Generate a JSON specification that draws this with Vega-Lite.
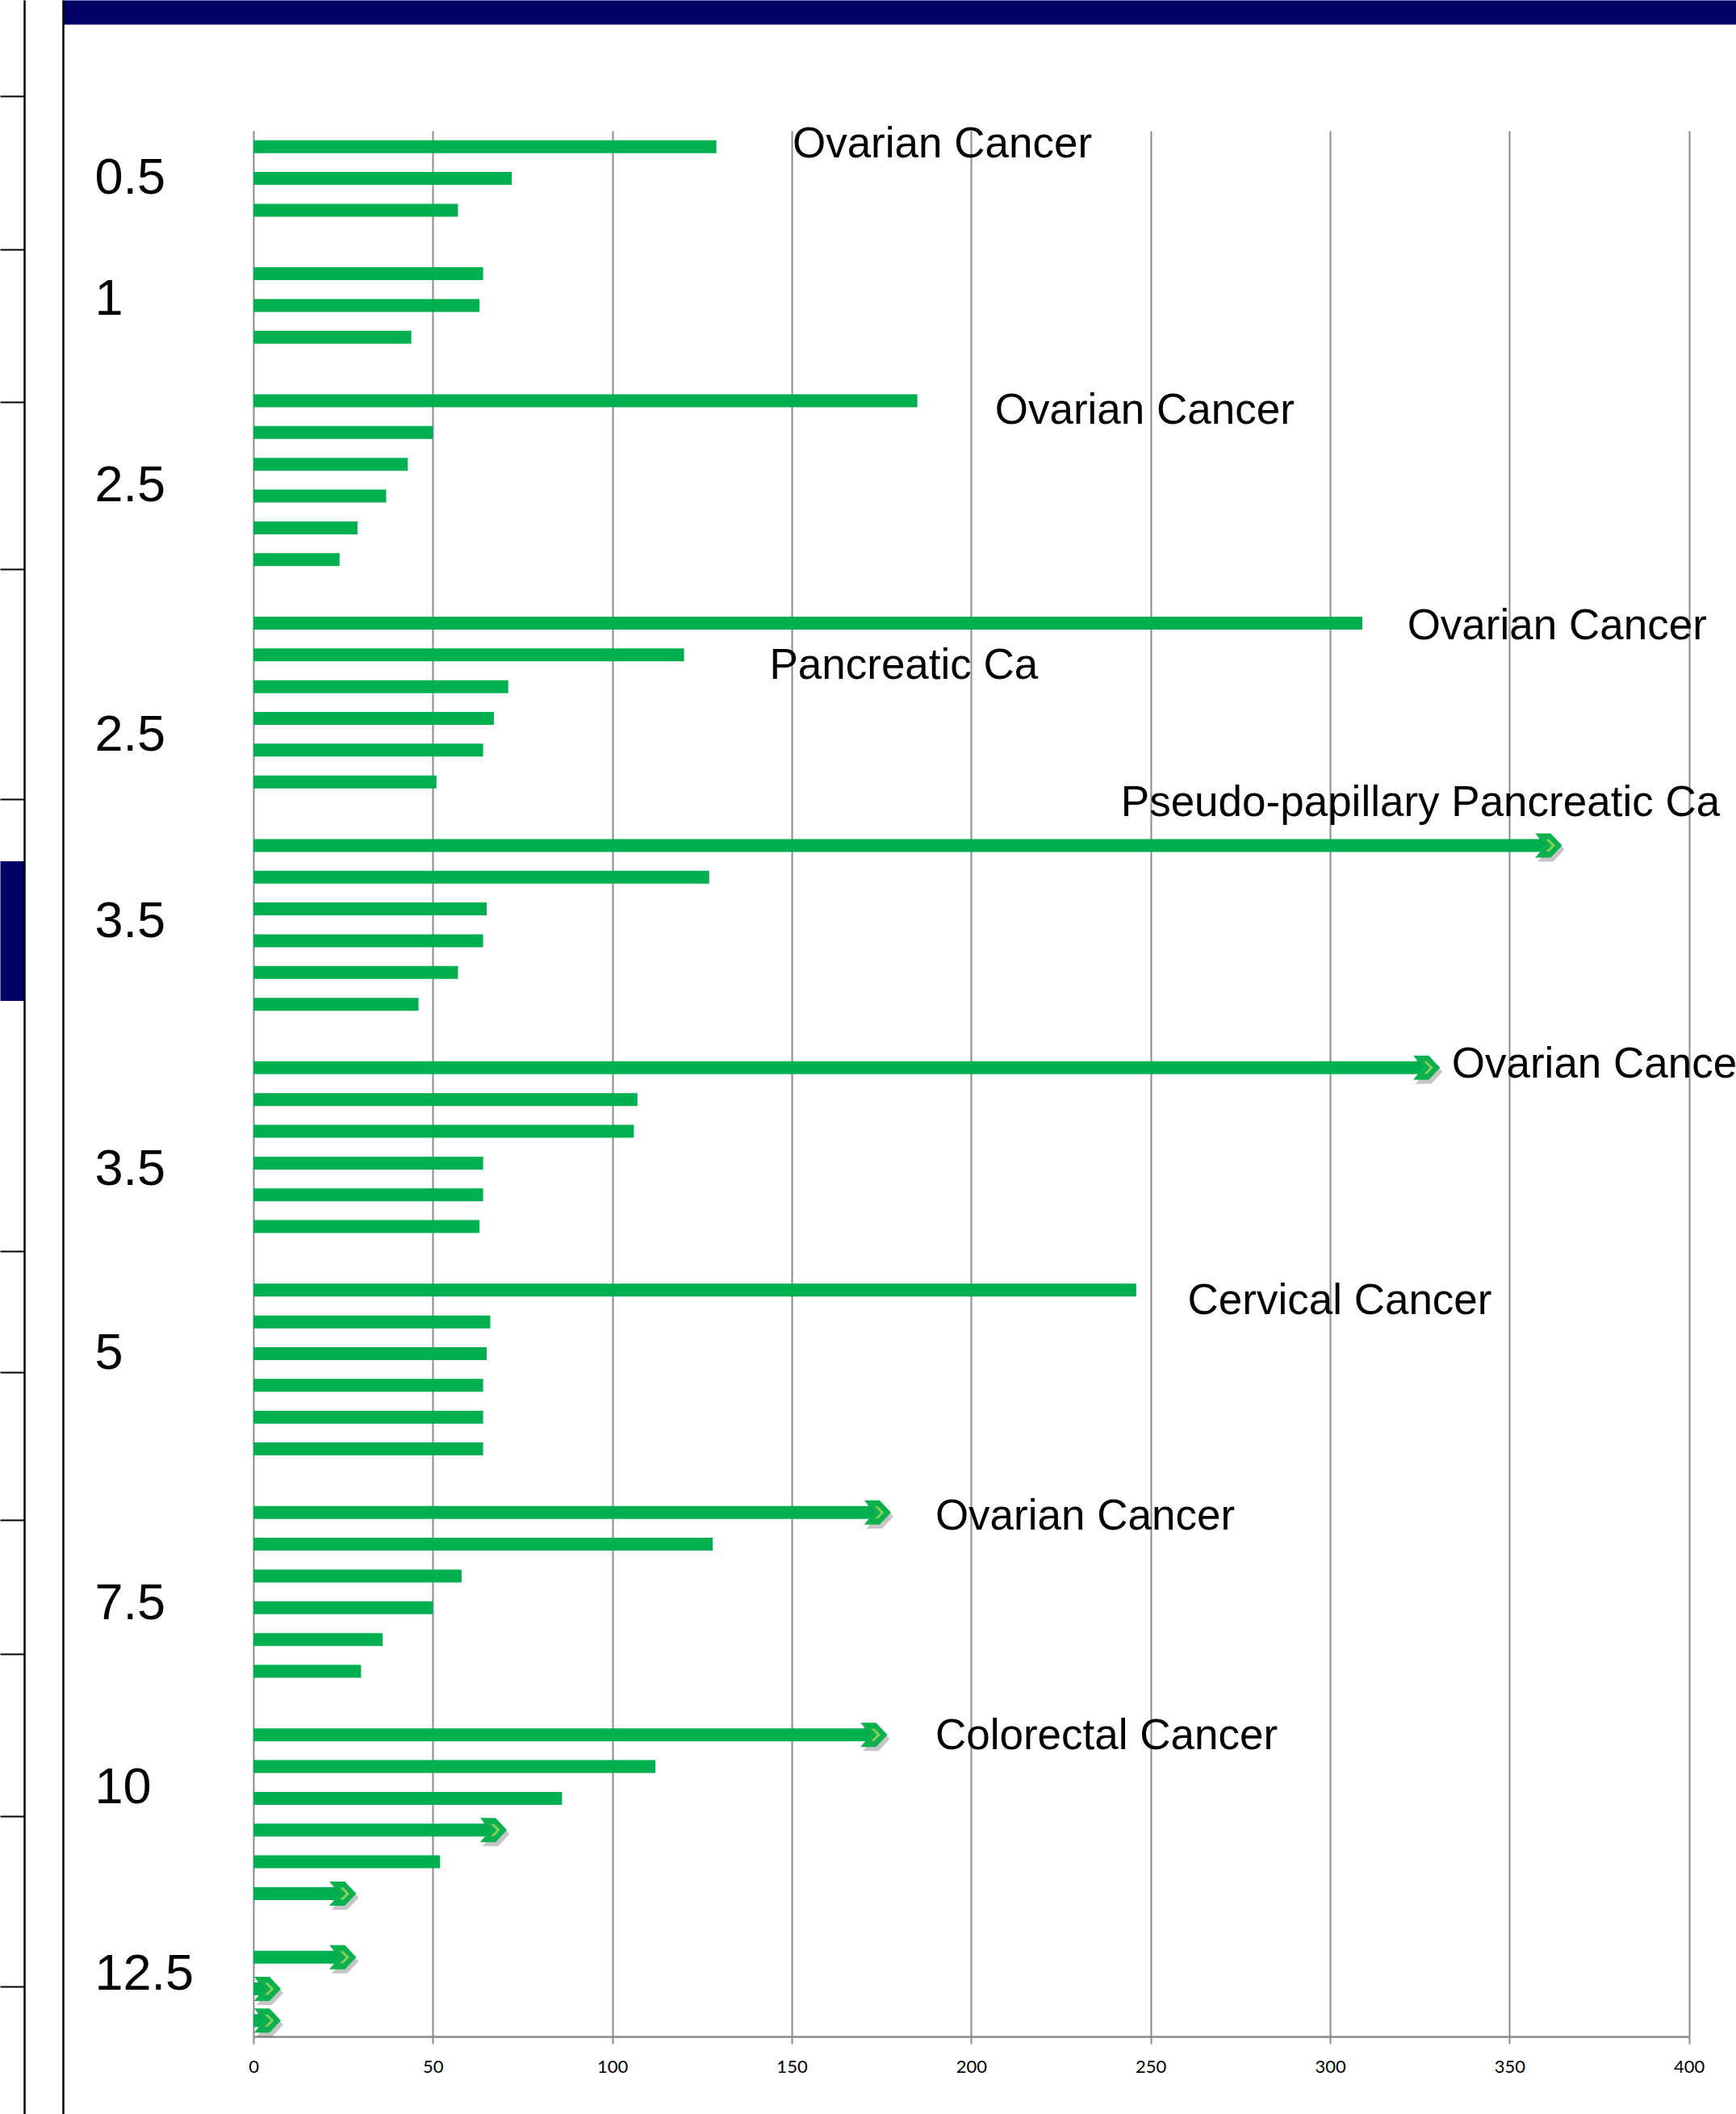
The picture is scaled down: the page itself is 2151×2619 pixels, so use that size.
{
  "$schema": "https://vega.github.io/schema/vega-lite/v6.json",
  "autosize": {"type": "none"},
  "padding": {"left": 78, "top": 66, "right": 0, "bottom": 0},
  "width": 2073,
  "height": 2553,
  "background": "white",
  "config": {"view": {"stroke": null}},
  "datasets": {
    "bars": [
      {"group": "0.5", "row": 0, "value": 129, "arrow": false},
      {"group": "0.5", "row": 1, "value": 72, "arrow": false},
      {"group": "0.5", "row": 2, "value": 57, "arrow": false},
      {"group": "1", "row": 4, "value": 64, "arrow": false},
      {"group": "1", "row": 5, "value": 63, "arrow": false},
      {"group": "1", "row": 6, "value": 44, "arrow": false},
      {"group": "2.5", "row": 8, "value": 185, "arrow": false},
      {"group": "2.5", "row": 9, "value": 50, "arrow": false},
      {"group": "2.5", "row": 10, "value": 43, "arrow": false},
      {"group": "2.5", "row": 11, "value": 37, "arrow": false},
      {"group": "2.5", "row": 12, "value": 29, "arrow": false},
      {"group": "2.5", "row": 13, "value": 24, "arrow": false},
      {"group": "2.5", "row": 15, "value": 309, "arrow": false},
      {"group": "2.5", "row": 16, "value": 120, "arrow": false},
      {"group": "2.5", "row": 17, "value": 71, "arrow": false},
      {"group": "2.5", "row": 18, "value": 67, "arrow": false},
      {"group": "2.5", "row": 19, "value": 64, "arrow": false},
      {"group": "2.5", "row": 20, "value": 51, "arrow": false},
      {"group": "3.5", "row": 22, "value": 360, "arrow": true},
      {"group": "3.5", "row": 23, "value": 127, "arrow": false},
      {"group": "3.5", "row": 24, "value": 65, "arrow": false},
      {"group": "3.5", "row": 25, "value": 64, "arrow": false},
      {"group": "3.5", "row": 26, "value": 57, "arrow": false},
      {"group": "3.5", "row": 27, "value": 46, "arrow": false},
      {"group": "3.5", "row": 29, "value": 326, "arrow": true},
      {"group": "3.5", "row": 30, "value": 107, "arrow": false},
      {"group": "3.5", "row": 31, "value": 106, "arrow": false},
      {"group": "3.5", "row": 32, "value": 64, "arrow": false},
      {"group": "3.5", "row": 33, "value": 64, "arrow": false},
      {"group": "3.5", "row": 34, "value": 63, "arrow": false},
      {"group": "5", "row": 36, "value": 246, "arrow": false},
      {"group": "5", "row": 37, "value": 66, "arrow": false},
      {"group": "5", "row": 38, "value": 65, "arrow": false},
      {"group": "5", "row": 39, "value": 64, "arrow": false},
      {"group": "5", "row": 40, "value": 64, "arrow": false},
      {"group": "5", "row": 41, "value": 64, "arrow": false},
      {"group": "7.5", "row": 43, "value": 173, "arrow": true},
      {"group": "7.5", "row": 44, "value": 128, "arrow": false},
      {"group": "7.5", "row": 45, "value": 58, "arrow": false},
      {"group": "7.5", "row": 46, "value": 50, "arrow": false},
      {"group": "7.5", "row": 47, "value": 36, "arrow": false},
      {"group": "7.5", "row": 48, "value": 30, "arrow": false},
      {"group": "10", "row": 50, "value": 172, "arrow": true},
      {"group": "10", "row": 51, "value": 112, "arrow": false},
      {"group": "10", "row": 52, "value": 86, "arrow": false},
      {"group": "10", "row": 53, "value": 66, "arrow": true},
      {"group": "10", "row": 54, "value": 52, "arrow": false},
      {"group": "10", "row": 55, "value": 24, "arrow": true},
      {"group": "12.5", "row": 57, "value": 24, "arrow": true},
      {"group": "12.5", "row": 58, "value": 3, "arrow": true},
      {"group": "12.5", "row": 59, "value": 3, "arrow": true}
    ],
    "notes": [
      {"text": "Ovarian Cancer", "at": 150.2, "row": -0.08},
      {"text": "Ovarian Cancer", "at": 206.6, "row": 8.32},
      {"text": "Ovarian Cancer", "at": 321.5, "row": 15.11},
      {"text": "Pancreatic Ca", "at": 143.8, "row": 16.35},
      {"text": "Pseudo-papillary Pancreatic Ca", "at": 241.7, "row": 20.68},
      {"text": "Ovarian Cancer", "at": 333.9, "row": 28.91},
      {"text": "Cervical Cancer", "at": 260.3, "row": 36.34},
      {"text": "Ovarian Cancer", "at": 190.0, "row": 43.13},
      {"text": "Colorectal Cancer", "at": 190.0, "row": 50.05}
    ]
  },
  "layer": [
    {
      "layer": [
        {
          "data": {"name": "bars"},
          "mark": {"type": "bar", "orient": "horizontal", "size": 16, "color": "#00B050"},
          "encoding": {
            "x": {
              "field": "value",
              "type": "quantitative",
              "scale": {"domain": [0, 400], "range": [236, 2014.7], "nice": false, "zero": true, "padding": 0},
              "axis": {
                "orient": "bottom",
                "offset": -96,
                "values": [0, 50, 100, 150, 200, 250, 300, 350, 400],
                "grid": true,
                "gridColor": "#8a8a8a",
                "gridWidth": 2,
                "domain": true,
                "domainColor": "#8a8a8a",
                "domainWidth": 2.5,
                "ticks": true,
                "tickSize": 9,
                "tickColor": "#8a8a8a",
                "tickWidth": 2,
                "labelFont": "Lato",
                "labelFontSize": 22,
                "labelColor": "#000000",
                "labelPadding": 18,
                "labelFlush": false,
                "labelOverlap": false,
                "title": null
              }
            },
            "y": {
              "field": "row",
              "type": "quantitative",
              "scale": {"domain": [-0.5, 59.5], "range": [96, 2457], "nice": false, "zero": false, "padding": 0},
              "axis": {
                "orient": "left",
                "offset": -39,
                "values": [0.99, 4.81, 10.67, 18.52, 24.38, 32.19, 38.0, 45.86, 51.67, 57.53],
                "labelExpr": "datum.value < 2 ? '0.5' : datum.value < 7 ? '1' : datum.value < 20 ? '2.5' : datum.value < 33 ? '3.5' : datum.value < 40 ? '5' : datum.value < 48 ? '7.5' : datum.value < 55 ? '10' : '12.5'",
                "domain": false,
                "ticks": false,
                "tickSize": 0,
                "grid": false,
                "labelAlign": "left",
                "labelBaseline": "middle",
                "labelPadding": 0,
                "labelFont": "Liberation Sans",
                "labelFontSize": 63,
                "labelColor": "#000000",
                "labelOverlap": false,
                "labelFlush": false,
                "title": null
              }
            }
          }
        },
        {
          "data": {"name": "bars"},
          "transform": [{"filter": "datum.arrow"}],
          "mark": {
            "type": "point",
            "shape": "M-0.84,-1L0.44,-1L1.38,0L0.44,1L-0.84,1L0,0Z",
            "size": 900,
            "filled": true,
            "color": "#404040",
            "fill": "#404040",
            "opacity": 0.3,
            "strokeWidth": 0,
            "xOffset": 3,
            "yOffset": 5
          },
          "encoding": {
            "x": {"field": "value", "type": "quantitative"},
            "y": {"field": "row", "type": "quantitative"}
          }
        },
        {
          "data": {"name": "bars"},
          "transform": [{"filter": "datum.arrow"}],
          "mark": {
            "type": "point",
            "shape": "M-0.84,-1L0.44,-1L1.38,0L0.44,1L-0.84,1L0,0Z",
            "size": 900,
            "filled": true,
            "color": "#0CB14E",
            "fill": "#0CB14E",
            "opacity": 1,
            "strokeWidth": 0
          },
          "encoding": {
            "x": {"field": "value", "type": "quantitative"},
            "y": {"field": "row", "type": "quantitative"}
          }
        },
        {
          "data": {"name": "bars"},
          "transform": [{"filter": "datum.arrow"}],
          "mark": {
            "type": "point",
            "shape": "M0.05,-0.5L0.3,-0.5L0.8,0L0.3,0.5L0.05,0.5L0.55,0Z",
            "size": 900,
            "filled": true,
            "color": "#8CD25A",
            "fill": "#8CD25A",
            "opacity": 1,
            "strokeWidth": 0
          },
          "encoding": {
            "x": {"field": "value", "type": "quantitative"},
            "y": {"field": "row", "type": "quantitative"}
          }
        },
        {
          "data": {"name": "notes"},
          "mark": {
            "type": "text",
            "align": "left",
            "baseline": "middle",
            "font": "Liberation Sans",
            "fontSize": 53,
            "color": "#000000"
          },
          "encoding": {
            "x": {"field": "at", "type": "quantitative"},
            "y": {"field": "row", "type": "quantitative"},
            "text": {"field": "text"}
          }
        }
      ]
    },
    {
      "data": {"name": "bars"},
      "mark": {"type": "tick", "opacity": 0},
      "encoding": {
        "x": {
          "field": "value",
          "type": "quantitative",
          "axis": {"orient": "top", "offset": 51, "domain": true, "domainColor": "#000066", "domainWidth": 30, "ticks": false, "labels": false, "grid": false, "title": null}
        },
        "y": {
          "field": "row",
          "type": "quantitative",
          "scale": {"range": [2553, -66]},
          "axis": {"orient": "left", "offset": 0, "domain": true, "domainColor": "#000000", "domainWidth": 2.5, "ticks": false, "labels": false, "grid": false, "title": null}
        }
      }
    },
    {
      "data": {"name": "bars"},
      "mark": {"type": "tick", "opacity": 0},
      "encoding": {
        "y": {
          "field": "row",
          "type": "quantitative",
          "scale": {"domain": [0, 2619], "range": [-66, 2553], "nice": false, "zero": false},
          "axis": {
            "orient": "left",
            "offset": 48,
            "values": [119, 309, 498, 705, 990, 1152.5, 1550, 1700, 1883, 2049, 2250, 2461],
            "domain": true,
            "domainColor": "#000000",
            "domainWidth": 2.5,
            "ticks": true,
            "tickSize": 30,
            "tickColor": {"condition": {"test": "datum.value === 1152.5", "value": "#000066"}, "value": "#000000"},
            "tickWidth": {"condition": {"test": "datum.value === 1152.5", "value": 173}, "value": 2},
            "labels": false,
            "grid": false,
            "title": null
          }
        }
      }
    }
  ],
  "resolve": {
    "scale": {"x": "independent", "y": "independent"},
    "axis": {"x": "independent", "y": "independent"}
  }
}
